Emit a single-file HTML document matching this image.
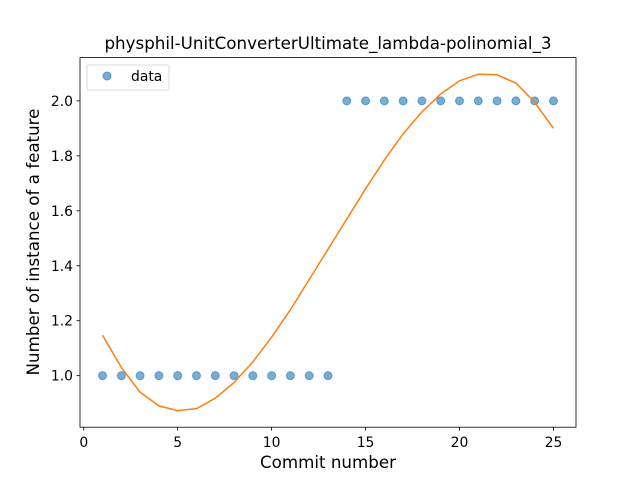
<!DOCTYPE html>
<html><head><meta charset="utf-8"><style>
body{margin:0;background:#fff;}
svg text{font-family:"DejaVu Sans","Liberation Sans",sans-serif;fill:#000;}
</style></head><body>
<svg id="chart" width="640" height="480" xmlns="http://www.w3.org/2000/svg">
<rect width="640" height="480" fill="#fff"/>
<g id="marks"></g>
<rect x="80" y="57.6" width="496" height="369.6" fill="none" stroke="#000" stroke-width="0.8"/>
<g id="ticks"></g>
<text x="328" y="49" font-size="16.7" text-anchor="middle">physphil-UnitConverterUltimate_lambda-polinomial_3</text>
<text x="328" y="468" font-size="16.7" text-anchor="middle">Commit number</text>
<text transform="translate(39,242) rotate(-90)" font-size="16.7" text-anchor="middle">Number of instance of a feature</text>
<g>
<rect x="87" y="65" width="82" height="25" rx="2" fill="#fff" stroke="#ccc" stroke-width="0.8" opacity="0.9"/>
<circle cx="107" cy="76" r="4" fill="#1f77b4" fill-opacity="0.6" stroke="#1f77b4" stroke-opacity="0.6"/>
<text x="131" y="81" font-size="13.9">data</text>
</g>
</svg>
<script>
const commits=[1,2,3,4,5,6,7,8,9,10,11,12,13,14,15,16,17,18,19,20,21,22,23,24,25];
const counts=[1,1,1,1,1,1,1,1,1,1,1,1,1,2,2,2,2,2,2,2,2,2,2,2,2];
const fitValues=[1.147,1.03,0.94,0.89,0.873,0.88,0.918,0.975,1.05,1.14,1.24,1.35,1.46,1.57,1.68,1.785,1.88,1.96,2.025,2.073,2.097,2.095,2.065,1.995,1.90];
const xTicks=[0,5,10,15,20,25];
const yTicks=[1.0,1.2,1.4,1.6,1.8,2.0];
const X=v=>80+(v+0.2)/26.4*496;
const Y=v=>427.2-(v-0.8125)/(2.1575-0.8125)*369.6;
const NS="http://www.w3.org/2000/svg";
const marks=document.getElementById('marks'),ticks=document.getElementById('ticks');
commits.forEach((c,i)=>{
 const e=document.createElementNS(NS,'circle');
 e.setAttribute('cx',X(c));e.setAttribute('cy',Y(counts[i]));e.setAttribute('r',4);
 e.setAttribute('fill','#1f77b4');e.setAttribute('fill-opacity','0.6');
 e.setAttribute('stroke','#1f77b4');e.setAttribute('stroke-opacity','0.6');
 
 
 marks.appendChild(e);
});
const p=document.createElementNS(NS,'polyline');
p.setAttribute('points',commits.map((c,i)=>X(c)+','+Y(fitValues[i])).join(' '));
p.setAttribute('fill','none');p.setAttribute('stroke','#ff7f0e');p.setAttribute('stroke-width','1.5');


marks.appendChild(p);
xTicks.forEach(t=>{
 const l=document.createElementNS(NS,'line');
 l.setAttribute('x1',X(t));l.setAttribute('x2',X(t));l.setAttribute('y1',427.2);l.setAttribute('y2',430.7);l.setAttribute('stroke','#000');l.setAttribute('stroke-width','0.8');
 
 
 ticks.appendChild(l);
 const tx=document.createElementNS(NS,'text');
 tx.setAttribute('x',X(t));tx.setAttribute('y',447);tx.setAttribute('font-size','13.9');tx.setAttribute('text-anchor','middle');
 tx.textContent=t;
 
 
 ticks.appendChild(tx);
});
yTicks.forEach(t=>{
 const l=document.createElementNS(NS,'line');
 l.setAttribute('x1',76.5);l.setAttribute('x2',80);l.setAttribute('y1',Y(t));l.setAttribute('y2',Y(t));l.setAttribute('stroke','#000');l.setAttribute('stroke-width','0.8');
 
 
 ticks.appendChild(l);
 const tx=document.createElementNS(NS,'text');
 tx.setAttribute('x',73);tx.setAttribute('y',Y(t)+5);tx.setAttribute('font-size','13.9');tx.setAttribute('text-anchor','end');
 tx.textContent=t.toFixed(1);
 
 
 ticks.appendChild(tx);
});
</script>
</body></html>
